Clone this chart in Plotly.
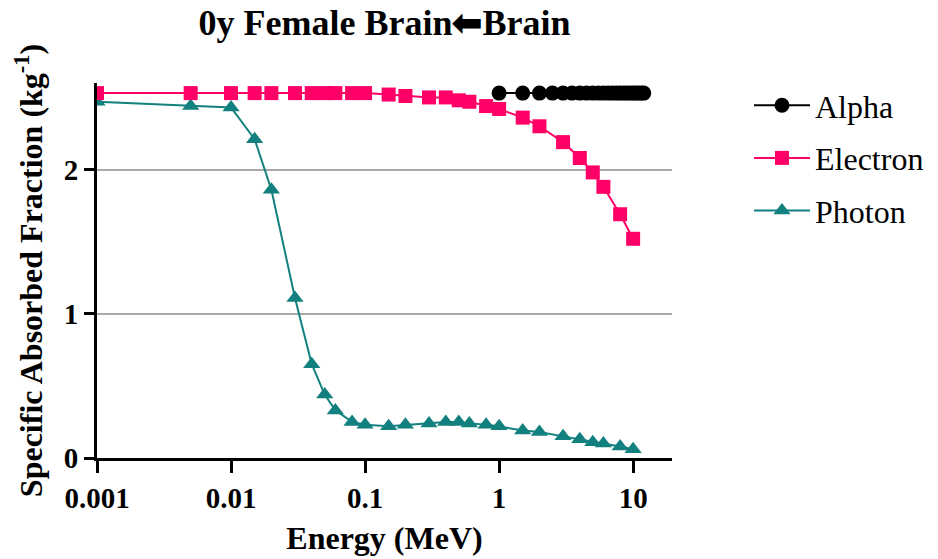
import plotly.graph_objects as go

# Energies (MeV) and specific absorbed fractions (kg^-1), brain <- brain, 0y female
photon_energy = [0.001, 0.005, 0.01, 0.015, 0.02, 0.03, 0.04, 0.05, 0.06, 0.08,
                 0.1, 0.15, 0.2, 0.3, 0.4, 0.5, 0.6, 0.8, 1, 1.5, 2, 3, 4, 5, 6, 8, 10]
photon_saf = [2.47, 2.44, 2.43, 2.21, 1.86, 1.11, 0.65, 0.44, 0.33, 0.25,
              0.23, 0.22, 0.23, 0.24, 0.25, 0.25, 0.24, 0.23, 0.22, 0.19, 0.18,
              0.15, 0.13, 0.11, 0.10, 0.08, 0.06]

electron_energy = [0.001, 0.005, 0.01, 0.015, 0.02, 0.03, 0.04, 0.05, 0.06, 0.08,
                   0.1, 0.15, 0.2, 0.3, 0.4, 0.5, 0.6, 0.8, 1, 1.5, 2, 3, 4, 5, 6, 8, 10]
electron_saf = [2.53, 2.53, 2.53, 2.53, 2.53, 2.53, 2.53, 2.53, 2.53, 2.53,
                2.53, 2.52, 2.51, 2.50, 2.50, 2.48, 2.47, 2.44, 2.42, 2.36, 2.30,
                2.19, 2.08, 1.98, 1.88, 1.69, 1.52]

alpha_energy = [1, 1.5, 2, 2.5, 3, 3.5, 4, 4.5, 5, 5.5, 6, 6.5, 7, 7.5, 8, 8.5,
                9, 9.5, 10, 10.5, 11, 11.5, 12]
alpha_saf = [2.53] * len(alpha_energy)

x_tickvals = [0.001, 0.01, 0.1, 1, 10]
x_ticktext = ["0.001", "0.01", "0.1", "1", "10"]
y_tickvals = [0, 1, 2]

PINK = "#FF0066"
TEAL = "#12807E"
FONT = "Liberation Serif"

fig = go.Figure()

fig.add_trace(go.Scatter(
    x=photon_energy, y=photon_saf, name="Photon", mode="lines+markers",
    legendgroup="p", legendrank=3,
    line=dict(color=TEAL, width=2),
    marker=dict(symbol="triangle-up", size=15, color=TEAL),
))
fig.add_trace(go.Scatter(
    x=electron_energy, y=electron_saf, name="Electron", mode="lines+markers",
    legendgroup="e", legendrank=2,
    line=dict(color=PINK, width=2),
    marker=dict(symbol="square", size=14, color=PINK),
))
fig.add_trace(go.Scatter(
    x=alpha_energy, y=alpha_saf, name="Alpha", mode="lines+markers",
    legendgroup="a", legendrank=1,
    line=dict(color="black", width=2),
    marker=dict(symbol="circle", size=15, color="black"),
))

fig.update_layout(
    width=938, height=559,
    margin=dict(l=97, r=266, t=83, b=101),
    paper_bgcolor="white", plot_bgcolor="white",
    font=dict(family=FONT, color="black"),
    title=dict(
        text="<b>0y Female Brain\u2b05Brain</b>",
        x=384.5 / 938, xanchor="center",
        y=1 - 22 / 559, yanchor="middle",
        font=dict(size=36, family=FONT, color="black"),
    ),
    showlegend=True,
    legend=dict(
        xref="container", yref="container",
        x=749 / 938, xanchor="left", y=1 - 78 / 559, yanchor="top",
        traceorder="grouped", tracegroupgap=8,
        font=dict(size=32, family=FONT, color="black"),
        bgcolor="rgba(0,0,0,0)", itemwidth=56,
    ),
)

fig.update_xaxes(
    type="log", range=[-3, 1.29], automargin=False,
    tickvals=x_tickvals, ticktext=x_ticktext,
    showline=True, linecolor="black", linewidth=3,
    ticks="outside", ticklen=12, tickwidth=3, tickcolor="black",
    showgrid=False, zeroline=False,
    tickfont=dict(size=29, family=FONT, color="black", weight="bold"),
    title=dict(text="<b>Energy (MeV)</b>", font=dict(size=32, family=FONT), standoff=14),
)
fig.update_yaxes(
    range=[0, 2.6], automargin=False,
    tickvals=y_tickvals, ticktext=["0", "1", "2"],
    showline=True, linecolor="black", linewidth=3,
    ticks="outside", ticklen=10, tickwidth=3, tickcolor="black",
    showgrid=True, gridcolor="#A8A8A8", gridwidth=1.5, zeroline=False,
    tickfont=dict(size=29, family=FONT, color="black", weight="bold"),
    title=dict(text="<b>Specific Absorbed Fraction (kg<sup>-1</sup>)</b>",
               font=dict(size=32, family=FONT), standoff=12),
)

fig.write_html("out.html")
